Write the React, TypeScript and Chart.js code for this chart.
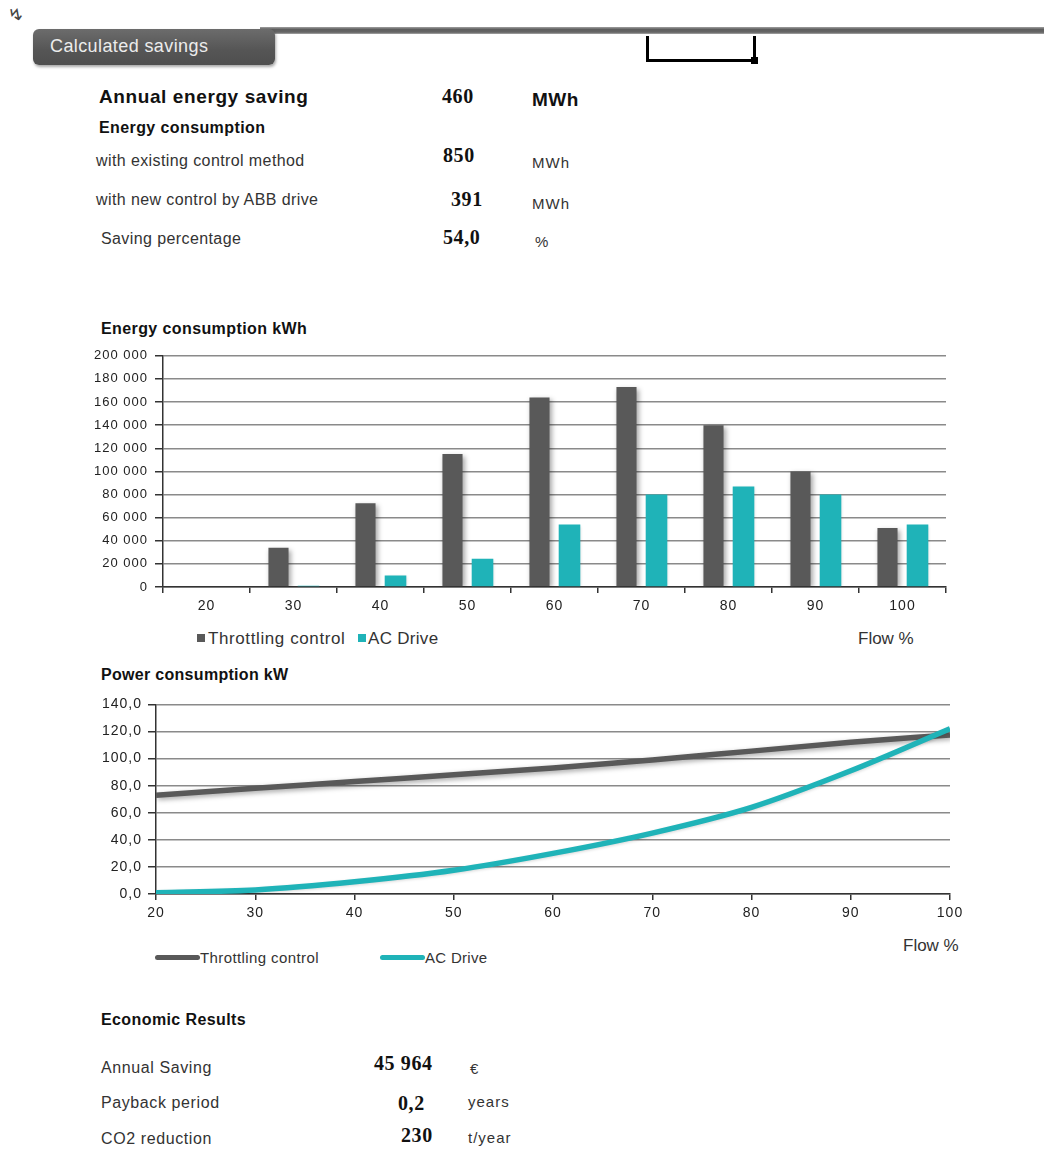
import React, { useEffect, useRef } from "react";
import { Chart, registerables } from "chart.js";

Chart.register(...registerables);

// ---------- data ----------
const flowCategories = ["20", "30", "40", "50", "60", "70", "80", "90", "100"];
const throttlingEnergy = [0, 34000, 72500, 115000, 164000, 173000, 140000, 100000, 51000];
const acDriveEnergy = [0, 1000, 10000, 24500, 54000, 80000, 87000, 80000, 54000];

const flowPoints = [20, 30, 40, 50, 60, 70, 80, 90, 100];
const throttlingPower = [73, 78, 83, 88, 93, 99, 105.5, 112, 117.5];
const acDrivePower = [1, 3, 9, 17.5, 30, 45, 64, 91, 122];

const seriesNames = ["Throttling control", "AC Drive"];

const savingLabels = ["with existing control method", "with new control by ABB drive", "Saving percentage"];
const savingValues = ["850", "391", "54,0"];
const savingUnits = ["MWh", "MWh", "%"];

const economicLabels = ["Annual Saving", "Payback period", "CO2 reduction"];
const economicValues = ["45 964", "0,2", "230"];
const economicUnits = ["€", "years", "t/year"];

const GRAY = "#595959";
const TEAL = "#1fb3b8";
const SANS = "'Liberation Sans', Arial, sans-serif";
const SERIF = "'Liberation Serif', 'Times New Roman', serif";

const shadowPlugin = {
  id: "softShadow",
  beforeDatasetDraw(chart: any, args: any) {
    const ctx = chart.ctx;
    ctx.save();
    if (args.index === 0) {
      ctx.shadowColor = "rgba(0,0,0,0.35)";
      ctx.shadowBlur = 5;
      ctx.shadowOffsetX = 2;
      ctx.shadowOffsetY = 2;
    } else {
      ctx.shadowColor = "rgba(0,0,0,0.15)";
      ctx.shadowBlur = 3;
      ctx.shadowOffsetX = 1;
      ctx.shadowOffsetY = 1;
    }
  },
  afterDatasetDraw(chart: any) {
    chart.ctx.restore();
  },
};

// widen canvas text slightly, like the stretched original
const spacingPlugin = {
  id: "letterSpacing",
  beforeUpdate(chart: any) {
    chart.ctx.letterSpacing = "1px";
  },
  beforeDraw(chart: any) {
    chart.ctx.letterSpacing = "1px";
  },
};

const spaceThousands = (v: number) =>
  String(v).replace(/\B(?=(\d{3})+(?!\d))/g, " ");

function BarChart() {
  const ref = useRef<HTMLCanvasElement | null>(null);
  useEffect(() => {
    if (!ref.current) return;
    const chart = new Chart(ref.current, {
      type: "bar",
      data: {
        labels: flowCategories,
        datasets: [
          {
            label: seriesNames[0],
            data: throttlingEnergy,
            backgroundColor: GRAY,
            categoryPercentage: 0.69,
            barPercentage: 0.67,
          },
          {
            label: seriesNames[1],
            data: acDriveEnergy,
            backgroundColor: TEAL,
            categoryPercentage: 0.69,
            barPercentage: 0.72,
          },
        ],
      },
      plugins: [spacingPlugin, shadowPlugin],
      options: {
        responsive: false,
        animation: false,
        layout: { padding: { top: 7, right: 2, left: 0, bottom: 0 } },
        plugins: { legend: { display: false }, tooltip: { enabled: false } },
        scales: {
          x: {
            grid: {
              drawOnChartArea: false,
              drawTicks: true,
              tickLength: 6,
              offset: true,
              color: "#333",
              lineWidth: 1.5,
            },
            border: { color: "#333", width: 1.5 },
            ticks: { color: "#222", font: { family: SANS, size: 14 }, padding: 5 },
            afterFit: (s: any) => {
              s.height = 32;
            },
          },
          y: {
            min: 0,
            max: 200000,
            ticks: {
              stepSize: 20000,
              color: "#222",
              font: { family: SANS, size: 13 },
              padding: 7,
              callback: (v: any) => spaceThousands(Number(v)),
            },
            grid: { color: "#8a8a8a", lineWidth: 1.5, tickColor: "#333", tickLength: 8 },
            border: { color: "#333", width: 1.5 },
            afterFit: (s: any) => {
              s.width = 73;
            },
          },
        },
      },
    });
    return () => chart.destroy();
  }, []);
  return (
    <canvas
      ref={ref}
      width={858}
      height={278}
      style={{ position: "absolute", left: 90, top: 341, width: 858, height: 278 }}
    />
  );
}

function LineChart() {
  const ref = useRef<HTMLCanvasElement | null>(null);
  useEffect(() => {
    if (!ref.current) return;
    const chart = new Chart(ref.current, {
      type: "line",
      data: {
        datasets: [
          {
            label: seriesNames[0],
            data: flowPoints.map((x, i) => ({ x, y: throttlingPower[i] })),
            borderColor: GRAY,
            borderWidth: 5.5,
            pointRadius: 0,
            cubicInterpolationMode: "monotone",
            order: 1,
          },
          {
            label: seriesNames[1],
            data: flowPoints.map((x, i) => ({ x, y: acDrivePower[i] })),
            borderColor: TEAL,
            borderWidth: 5.5,
            pointRadius: 0,
            cubicInterpolationMode: "monotone",
            order: 0,
          },
        ],
      },
      plugins: [spacingPlugin, shadowPlugin],
      options: {
        responsive: false,
        animation: false,
        layout: { padding: { top: 7, right: 20, left: 0, bottom: 0 } },
        plugins: { legend: { display: false }, tooltip: { enabled: false } },
        scales: {
          x: {
            type: "linear",
            min: 20,
            max: 100,
            ticks: { stepSize: 10, color: "#222", font: { family: SANS, size: 14 }, padding: 5 },
            grid: {
              drawOnChartArea: false,
              drawTicks: true,
              tickLength: 6,
              color: "#333",
              lineWidth: 1.5,
            },
            border: { color: "#333", width: 1.5 },
            afterFit: (s: any) => {
              s.height = 32;
            },
          },
          y: {
            min: 0,
            max: 140,
            ticks: {
              stepSize: 20,
              color: "#222",
              font: { family: SANS, size: 14 },
              padding: 6,
              callback: (v: any) => Number(v).toFixed(1).replace(".", ","),
            },
            grid: { color: "#8a8a8a", lineWidth: 1.5, tickColor: "#333", tickLength: 8 },
            border: { color: "#333", width: 1.5 },
            afterFit: (s: any) => {
              s.width = 66;
            },
          },
        },
      },
    });
    return () => chart.destroy();
  }, []);
  return (
    <canvas
      ref={ref}
      width={880}
      height={236}
      style={{ position: "absolute", left: 90, top: 690, width: 880, height: 236 }}
    />
  );
}

const abs = (left: number, top: number, extra: React.CSSProperties = {}): React.CSSProperties => ({
  position: "absolute",
  left,
  top,
  whiteSpace: "nowrap",
  lineHeight: 1,
  ...extra,
});

const labelStyle: React.CSSProperties = { fontSize: 16, color: "#333", letterSpacing: 0.4 };
const unitStyle: React.CSSProperties = { fontSize: 15, color: "#333", letterSpacing: 1 };
const numStyle: React.CSSProperties = {
  fontSize: 20,
  fontWeight: "bold",
  fontFamily: SERIF,
  color: "#111",
  letterSpacing: 0.6,
};
const headStyle: React.CSSProperties = { fontSize: 16, fontWeight: "bold", color: "#111", letterSpacing: 0.4 };

export default function App() {
  const rowCenters = [161, 200, 239];
  const rowLefts = [96, 96, 101];
  const valueLefts = [443, 451, 443];
  const valueCenters = [155, 199, 237];
  const unitLefts = [532, 532, 535];
  const unitCenters = [162, 203, 241];
  const ecoCenters = [1068, 1103, 1139];
  const ecoValLefts = [374, 398, 401];
  const ecoValCenters = [1063, 1103, 1135];
  const ecoUnitLefts = [470, 468, 468];
  const ecoUnitCenters = [1068, 1101, 1137];

  return (
    <div
      style={{
        position: "absolute",
        left: 0,
        top: 0,
        width: 1044,
        height: 1149,
        background: "#fff",
        fontFamily: SANS,
        color: "#222",
        overflow: "hidden",
      }}
    >
      {/* header bar */}
      <div
        style={{
          position: "absolute",
          left: 260,
          top: 27,
          width: 784,
          height: 7,
          background: "linear-gradient(#a0a0a0, #5e5e5e 35%, #666 75%, #a8a8a8)",
        }}
      />
      <div
        style={{
          position: "absolute",
          left: 33,
          top: 29,
          width: 242,
          height: 36,
          borderRadius: 6,
          background: "linear-gradient(#6c6c6c, #555 60%, #4f4f4f)",
          boxShadow: "1px 2px 3px rgba(0,0,0,0.35)",
        }}
      />
      <div style={abs(50, 37, { fontSize: 18, color: "#ececec", letterSpacing: 0.4 })}>Calculated savings</div>
      {/* bracket marker */}
      <div style={{ position: "absolute", left: 646, top: 36, width: 3, height: 26, background: "#000" }} />
      <div style={{ position: "absolute", left: 646, top: 59, width: 110, height: 3, background: "#000" }} />
      <div style={{ position: "absolute", left: 753, top: 36, width: 3, height: 24, background: "#000" }} />
      <div style={{ position: "absolute", left: 751, top: 57, width: 7, height: 7, background: "#000" }} />
      {/* cursor glyph */}
      <div style={abs(8, 6, { fontSize: 18, color: "#444", transform: "rotate(-20deg)" })}>↯</div>

      {/* savings block */}
      <div style={abs(99, 87, { fontSize: 19, fontWeight: "bold", color: "#111", letterSpacing: 0.6 })}>
        Annual energy saving
      </div>
      <div style={abs(442, 86, numStyle)}>460</div>
      <div style={abs(532, 90, { fontSize: 19, fontWeight: "bold", color: "#111", letterSpacing: 0.5 })}>MWh</div>
      <div style={abs(99, 120, headStyle)}>Energy consumption</div>
      {savingLabels.map((label, i) => (
        <React.Fragment key={label}>
          <div style={abs(rowLefts[i], rowCenters[i] - 8, labelStyle)}>{label}</div>
          <div style={abs(valueLefts[i], valueCenters[i] - 10, numStyle)}>{savingValues[i]}</div>
          <div style={abs(unitLefts[i], unitCenters[i] - 7.5, unitStyle)}>{savingUnits[i]}</div>
        </React.Fragment>
      ))}

      {/* bar chart */}
      <div style={abs(101, 321, headStyle)}>Energy consumption kWh</div>
      <BarChart />
      <div style={{ position: "absolute", left: 197, top: 634, width: 8, height: 8, background: GRAY }} />
      <div style={abs(208, 630, { fontSize: 17, color: "#333", letterSpacing: 0.6 })}>{seriesNames[0]}</div>
      <div style={{ position: "absolute", left: 358, top: 634, width: 8, height: 8, background: TEAL }} />
      <div style={abs(368, 630, { fontSize: 17, color: "#333", letterSpacing: 0.3 })}>{seriesNames[1]}</div>
      <div style={abs(858, 630, { fontSize: 17, color: "#333" })}>Flow %</div>

      {/* line chart */}
      <div style={abs(101, 667, { ...headStyle, letterSpacing: 0.3 })}>Power consumption kW</div>
      <LineChart />
      <div style={abs(903, 937, { fontSize: 17, color: "#333" })}>Flow %</div>
      <div style={{ position: "absolute", left: 155, top: 955, width: 45, height: 5, borderRadius: 3, background: GRAY }} />
      <div style={abs(200, 950, { fontSize: 15, color: "#333", letterSpacing: 0.4 })}>{seriesNames[0]}</div>
      <div style={{ position: "absolute", left: 380, top: 955, width: 45, height: 5, borderRadius: 3, background: TEAL }} />
      <div style={abs(425, 950, { fontSize: 15, color: "#333", letterSpacing: 0.3 })}>{seriesNames[1]}</div>

      {/* economic results */}
      <div style={abs(101, 1012, headStyle)}>Economic Results</div>
      {economicLabels.map((label, i) => (
        <React.Fragment key={label}>
          <div style={abs(101, ecoCenters[i] - 8, { ...labelStyle, letterSpacing: 0.6 })}>{label}</div>
          <div style={abs(ecoValLefts[i], ecoValCenters[i] - 10, numStyle)}>{economicValues[i]}</div>
          <div style={abs(ecoUnitLefts[i], ecoUnitCenters[i] - 7.5, unitStyle)}>{economicUnits[i]}</div>
        </React.Fragment>
      ))}
    </div>
  );
}
